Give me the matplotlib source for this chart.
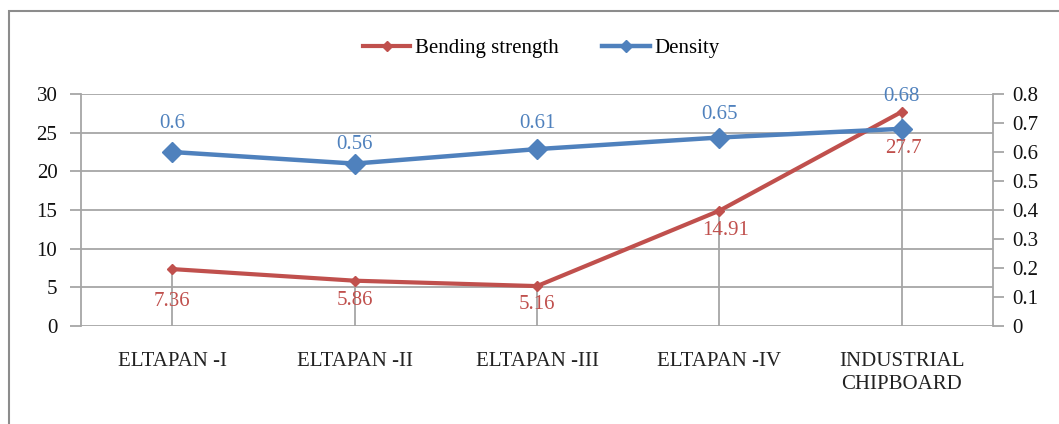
import matplotlib.pyplot as plt
from matplotlib.lines import Line2D
from matplotlib.patches import Rectangle

categories = ['ELTAPAN -I', 'ELTAPAN -II', 'ELTAPAN -III', 'ELTAPAN -IV', 'INDUSTRIAL\nCHIPBOARD']
bending = [7.36, 5.86, 5.16, 14.91, 27.7]
density = [0.6, 0.56, 0.61, 0.65, 0.68]

# label offsets in pixels (dx, dy)
bend_off = [(0, -32), (0, -20), (0, -18), (6, -20), (2, -37)]
dens_off = [(0, 29), (0, 19), (0, 26), (0, 23), (0, 32)]

RED = '#C0504D'
BLUE = '#4F81BD'
GRID = '#A6A6A6'

plt.rcParams['font.family'] = ['Liberation Serif', 'DejaVu Serif']
plt.rcParams['font.size'] = 15

fig = plt.figure(figsize=(10.59, 4.24), dpi=100)
W, H = 1059, 424
ax = fig.add_axes([81 / W, 1 - 326 / H, (993 - 81) / W, (326 - 94) / H])
ax2 = ax.twinx()

x = range(len(categories))

# drop lines from the bending strength points
ax.vlines(x, 0, bending, color=GRID, lw=1.3, zorder=1)
ax.plot(x, bending, color=RED, lw=3, marker='D', ms=5.5, zorder=3)
ax2.plot(x, density, color=BLUE, lw=3.2, marker='D', ms=10, zorder=3)

for i, v in enumerate(bending):
    ax.annotate(f'{v:g}', (i, v), xytext=bend_off[i], textcoords='offset pixels',
                ha='center', va='center', color=RED, fontsize=15)
for i, v in enumerate(density):
    ax2.annotate(f'{v:g}', (i, v), xytext=dens_off[i], textcoords='offset pixels',
                 ha='center', va='center', color=BLUE, fontsize=15)

ax.set_xlim(-0.5, 4.5)
ax.set_ylim(0, 30)
ax.set_yticks(range(0, 31, 5))
ax2.set_ylim(0, 0.8)
ax2.set_yticks([0, 0.1, 0.2, 0.3, 0.4, 0.5, 0.6, 0.7, 0.8])
ax2.set_yticklabels(['0', '0.1', '0.2', '0.3', '0.4', '0.5', '0.6', '0.7', '0.8'])

ax.set_xticks(list(x))
ax.set_xticklabels(categories, color='#222222', linespacing=1.25)
ax.tick_params(axis='x', length=0, pad=19)
ax.tick_params(axis='y', length=8, width=1.3, color=GRID, pad=9, labelcolor='#111111')
ax2.tick_params(axis='y', length=8, width=1.3, color=GRID, pad=6, labelcolor='#111111')

ax.grid(axis='y', color=GRID, lw=1.3, zorder=0)
ax.set_axisbelow(True)
for s in ['top', 'bottom', 'right']:
    ax.spines[s].set_visible(False)
ax.spines['left'].set_color(GRID)
ax.spines['left'].set_linewidth(1.3)
for s in ['top', 'bottom', 'left']:
    ax2.spines[s].set_visible(False)
ax2.spines['right'].set_color(GRID)
ax2.spines['right'].set_linewidth(1.3)

# legend keys with smaller markers than the plotted series
handles = [Line2D([], [], color=RED, lw=3, marker='D', ms=5.5),
           Line2D([], [], color=BLUE, lw=3.2, marker='D', ms=6.5)]
fig.legend(handles, ['Bending strength', 'Density'], loc='center',
           bbox_to_anchor=(541 / W, 1 - 48 / H), ncol=2, frameon=False,
           handlelength=2.3, handletextpad=0.2, columnspacing=2.1, fontsize=15)

# outer chart border
fig.patches.append(Rectangle((8.5 / W, -0.1), 1.2, 1.1 - 11.5 / H,
                             transform=fig.transFigure, fill=False,
                             edgecolor='#8C8C8C', lw=1.5))

fig.savefig('out.png', dpi=100)
